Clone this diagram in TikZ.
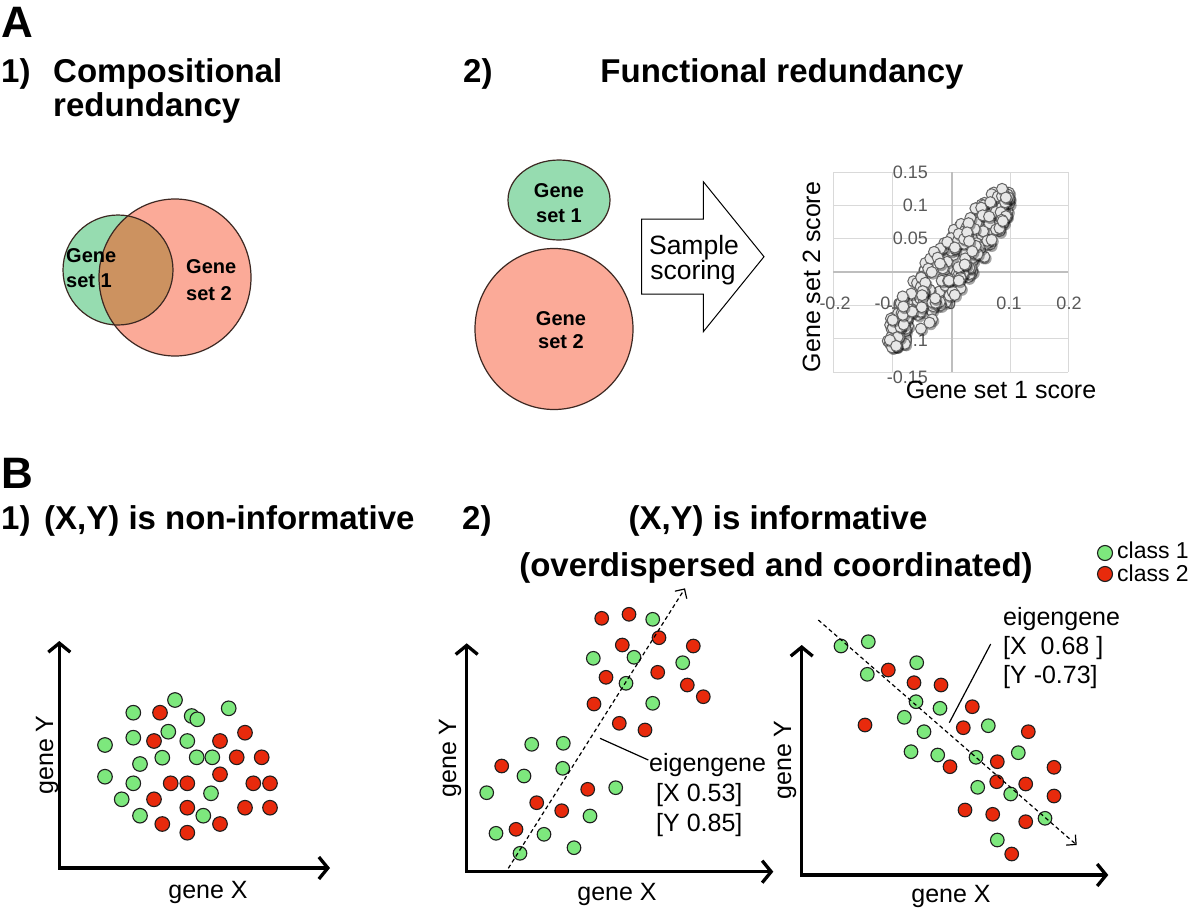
\documentclass[tikz,border=0pt]{standalone}
\usepackage{fontspec}
\setmainfont{Liberation Sans}
\usetikzlibrary{arrows.meta}
\definecolor{vgreen}{RGB}{150,220,176}
\definecolor{vred}{RGB}{251,170,152}
\definecolor{vbrown}{RGB}{204,146,96}
\definecolor{vline}{RGB}{60,40,34}
\definecolor{dotgreen}{RGB}{125,232,125}
\definecolor{dotred}{RGB}{232,42,12}
\definecolor{dotline}{RGB}{30,30,30}
\definecolor{tickgray}{RGB}{89,89,89}
\definecolor{gridc}{RGB}{217,217,217}
\definecolor{axc}{RGB}{190,190,190}
\definecolor{sptfill}{RGB}{232,232,232}
\definecolor{sptline}{RGB}{100,100,100}
\tikzset{
  bigletter/.style={font=\bfseries\fontsize{44}{44}\selectfont, inner sep=0, anchor=base west},
  title/.style={font=\bfseries\fontsize{33}{35}\selectfont, inner sep=0, anchor=base west},
  ctitle/.style={font=\bfseries\fontsize{33}{35}\selectfont, inner sep=0, anchor=base},
  setlabel/.style={font=\bfseries\fontsize{20}{25}\selectfont, inner sep=0},
  axlab/.style={font=\fontsize{25}{30}\selectfont, inner sep=0, anchor=base},
  eigtext/.style={font=\fontsize{25}{30}\selectfont, inner sep=0, anchor=base west},
  legtext/.style={font=\fontsize{23}{24}\selectfont, inner sep=0, anchor=base west},
  arrowtext/.style={font=\fontsize{26.5}{27}\selectfont, inner sep=0, anchor=base},
  ticklab/.style={font=\fontsize{18}{18}\selectfont, text=tickgray, inner sep=0},
  vennline/.style={draw=vline, line width=1.2pt},
  gdot/.style={fill=dotgreen, draw=dotline, line width=1.1pt},
  rdot/.style={fill=dotred, draw=dotline, line width=1.1pt},
  geneaxis/.style={line width=3.3pt, line join=miter,
    {Straight Barb[length=9pt,width=22pt]}-{Straight Barb[length=9pt,width=22pt]}},
  eigarrow/.style={line width=1.2pt, dash pattern=on 4pt off 3pt,
    -{Straight Barb[length=7pt,width=14pt]}},
  leader/.style={line width=1.2pt},
  gridline/.style={draw=gridc, line width=1pt},
  zeroaxis/.style={draw=axc, line width=1.2pt},
  spt/.style={fill=sptfill, draw=sptline, line width=1pt},
  sshadow/.style={fill=black, opacity=0.35},
}
\begin{document}
\begin{tikzpicture}[x=1pt,y=-1pt]
\useasboundingbox[fill=white] (0,0) rectangle (1200,910);

% ---------------- Panel A ----------------
\node[bigletter] (lA) at (1,37) {A};
\node[title] (a1num) at (1,82) {1)};
\node[title] (a1t1) at (53,82) {Compositional};
\node[title] (a1t2) at (53,116) {redundancy};
\node[title] (a2num) at (463,82) {2)};
\node[ctitle] (a2t) at (782,82) {Functional redundancy};

% Venn
\fill[vgreen] (118,270) circle (55pt);
\fill[vred] (175,277.5) ellipse [x radius=76pt, y radius=78.5pt];
\begin{scope}
  \clip (118,270) circle (55pt);
  \fill[vbrown] (175,277.5) ellipse [x radius=76pt, y radius=78.5pt];
\end{scope}
\draw[vennline] (118,270) circle (55pt);
\draw[vennline] (175,277.5) ellipse [x radius=76pt, y radius=78.5pt];
\node[setlabel, anchor=base west] (v1a) at (66,262) {Gene};
\node[setlabel, anchor=base west] (v1b) at (66,287) {set 1};
\node[setlabel, anchor=base west] (v2a) at (186,273) {Gene};
\node[setlabel, anchor=base west] (v2b) at (186,300) {set 2};

% Separate gene sets
\filldraw[fill=vgreen, vennline] (559,200) ellipse [x radius=51pt, y radius=40pt];
\filldraw[fill=vred, vennline] (554,329) ellipse [x radius=79pt, y radius=80.5pt];
\node[setlabel, anchor=base] (g1a) at (559,197) {Gene};
\node[setlabel, anchor=base] (g1b) at (559,222) {set 1};
\node[setlabel, anchor=base] (g2a) at (561,325) {Gene};
\node[setlabel, anchor=base] (g2b) at (561,348) {set 2};

% Block arrow
\draw[fill=white, line width=1pt, line join=miter]
  (641.7,219) -- (703.3,219) -- (703.3,181.7) -- (764,256.7)
  -- (703.3,331.7) -- (703.3,294) -- (641.7,294) -- cycle;
\node[arrowtext] (ss1) at (694,254) {Sample};
\node[arrowtext] (ss2) at (693,279) {scoring};

% Scatter plot
\foreach \gx in {833,892,1010,1068} \draw[gridline] (\gx,172) -- (\gx,372);
\foreach \gy in {172,205.3,238.7,305.3,338.7,372} \draw[gridline] (833,\gy) -- (1068,\gy);
\draw[zeroaxis] (952,172) -- (952,372);
\draw[zeroaxis] (833,272) -- (1068,272);
\foreach \v/\gy [count=\k] in {0.15/172,0.1/205.3,0.05/238.7,0/272,-0.05/305.3,-0.1/340,-0.15/377}
  \node[ticklab, anchor=east] (yt\k) at (928,\gy) {\v};
\foreach \v/\gx [count=\k] in {-0.2/835,-0.1/890,0/951,0.1/1009,0.2/1069}
  \node[ticklab] (xt\k) at (\gx,303) {\v};
\pgfmathsetseed{4242}
\foreach \i in {1,...,260}{
  \pgfmathsetmacro\ta{rand}
  \pgfmathsetmacro\ub{rand}
  \pgfmathsetmacro\dx{-0.006+0.104*\ta}
  \pgfmathsetmacro\hw{0.044*sqrt(max(0,1-\ta*\ta))+0.008}
  \pgfmathsetmacro\dy{\dx+0.011+\hw*\ub}
  \pgfmathsetmacro\px{952+590*\dx}
  \pgfmathsetmacro\py{272-666*\dy}
  \fill[sshadow] (\px+1.4,\py+1.8) circle (5.8pt);
  \filldraw[spt] (\px,\py) circle (5.5pt);
}
\node[axlab] (sx) at (1001,398) {Gene set 1 score};
\node[font=\fontsize{25}{30}\selectfont, inner sep=0, rotate=90, anchor=base] (sy) at (820,277) {Gene set 2 score};

% ---------------- Panel B ----------------
\node[bigletter] (lB) at (1,488) {B};
\node[title] (b1num) at (1,529) {1)};
\node[title] (b1t) at (44,529) {(X,Y) is non-informative};
\node[title] (b2num) at (462,529) {2)};
\node[ctitle] (b2t1) at (778,529) {(X,Y) is informative};
\node[ctitle] (b2t2) at (776,576) {(overdispersed and coordinated)};

% legend
\filldraw[gdot] (1105,553) circle (7.5pt);
\filldraw[rdot] (1105,574) circle (7.5pt);
\node[legtext] (lg1) at (1117,558) {class 1};
\node[legtext] (lg2) at (1117,581) {class 2};

% Plot 1
\coordinate (o1) at (59.3,868);
\coordinate (y1) at (59.3,641);
\coordinate (x1) at (330,868);
\draw[geneaxis] (y1) -- (o1) -- (x1);
\node[axlab] (p1x) at (208,898) {gene X};
\node[font=\fontsize{25}{30}\selectfont, inner sep=0, rotate=90, anchor=base] (p1y) at (53,755) {gene Y};
\foreach \x/\y in {175/700,133.3/712.7,191.7/716,197.3/719.3,228.7/708.3,168.3/731.7,133.3/737.7,187.3/741,105/745,140/764,162.3/757.7,196.7/757.3,212.3/757.3,105/776.7,133.3/783.3,211/793.3,121.7/799.3,140/815.7,203.3/815.7}
  \filldraw[gdot] (\x,\y) circle (7.3pt);
\foreach \x/\y in {160/712.7,245/732.7,154/741,220/741,236.7/757.3,261.7/757.3,220/774.3,170.7/783.3,187.3/783.3,253.3/783.3,270/783.3,154/799.3,187.3/807.7,245/807.7,270/807.7,162.3/824,220/824,187.3/832.7}
  \filldraw[rdot] (\x,\y) circle (7.3pt);

% Plot 2
\coordinate (o2) at (466.7,871.7);
\coordinate (y2) at (466.7,643.3);
\coordinate (x2) at (773.3,871.7);
\draw[geneaxis] (y2) -- (o2) -- (x2);
\node[axlab] (p2x) at (617,900) {gene X};
\node[font=\fontsize{25}{30}\selectfont, inner sep=0, rotate=90, anchor=base] (p2y) at (456,758) {gene Y};
\foreach \x/\y in {601.7/618.3,629/614.3,659/637.7,622.3/645,693.3/646,606/677.3,657.7/672.3,687.3/685,703.3/696.7,594/704,619.3/723.3,645/730,501.7/766,587.7/789.3,536.7/802.7,561.7/810.7,516/829.3}
  \filldraw[rdot] (\x,\y) circle (6.8pt);
\foreach \x/\y in {652.7/619.3,593.3/658.3,634/657.3,682.7/662.7,626/683.3,652.7/703.3,531.7/744.3,563.3/743.3,524/776,562.7/768.3,486.7/792.7,615.7/787.7,590/816,496/833.3,544/834.3,574/847.7,520/853.3}
  \filldraw[gdot] (\x,\y) circle (6.8pt);
\coordinate (e2s) at (508.3,868.3);
\coordinate (e2e) at (685,588.3);
\draw[eigarrow] (e2s) -- (e2e);
\coordinate (l2a) at (600,738.3);
\coordinate (l2b) at (648.3,760);
\draw[leader] (l2a) -- (l2b);
\node[eigtext] (eg2a) at (649,771) {eigengene};
\node[eigtext] (eg2b) at (656,801) {[X 0.53]};
\node[eigtext] (eg2c) at (656,831) {[Y 0.85]};

% Plot 3
\coordinate (o3) at (801.7,875);
\coordinate (y3) at (801.7,645);
\coordinate (x3) at (1108.3,875);
\draw[geneaxis] (y3) -- (o3) -- (x3);
\node[axlab] (p3x) at (951,902) {gene X};
\node[font=\fontsize{25}{30}\selectfont, inner sep=0, rotate=90, anchor=base] (p3y) at (791,760) {gene Y};
\foreach \x/\y in {841/646,868.3/641.7,867.3/674.3,916.7/662.7,916/701.7,940/708.3,904.3/717.3,924/731.7,988.3/725.7,911/751.7,937.7/755,976/757.3,1018.3/752.7,977.7/787.3,1010.7/794,1045/818.3,997.3/840}
  \filldraw[gdot] (\x,\y) circle (6.8pt);
\foreach \x/\y in {888.3/670,914/682.7,941/685,972.3/706.7,865/725,963.3/727.7,1028.3/731.7,950/766.7,997.3/761.7,1054/767.3,996.7/781.7,1025.7/784,1054/796,965/810,992.7/814.3,1025.7/821.7,1011.7/854}
  \filldraw[rdot] (\x,\y) circle (6.8pt);
\coordinate (e3s) at (818.3,620);
\coordinate (e3e) at (1076.7,845);
\draw[eigarrow] (e3s) -- (e3e);
\coordinate (l3a) at (949.3,722.7);
\coordinate (l3b) at (990.7,644);
\draw[leader] (l3a) -- (l3b);
\node[eigtext] (eg3a) at (1003,625) {eigengene};
\node[eigtext] (eg3b) at (1003,654) {[X\ \ 0.68\ ]};
\node[eigtext] (eg3c) at (1003,683) {[Y -0.73]};
\end{tikzpicture}
\end{document}
